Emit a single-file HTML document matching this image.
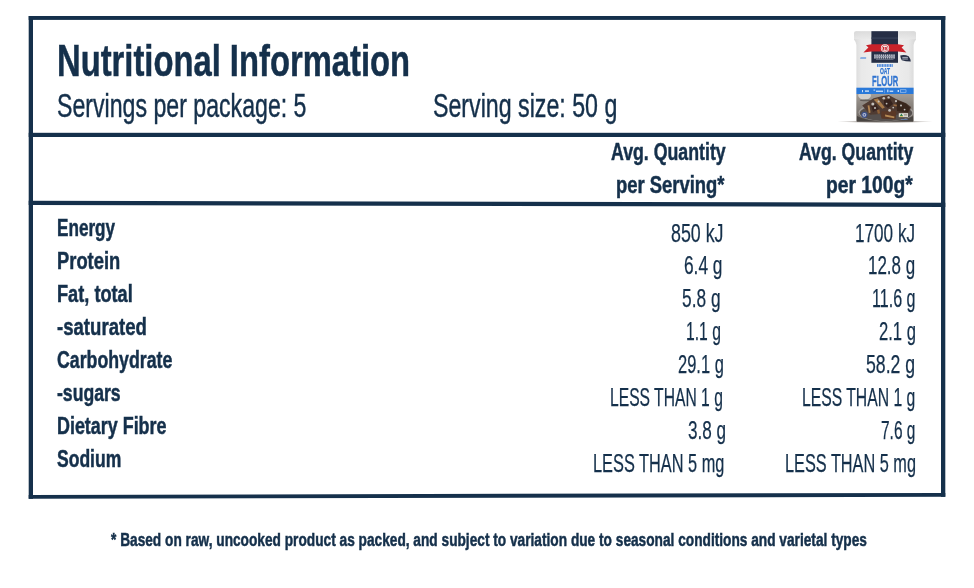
<!DOCTYPE html>
<html lang="en"><head><meta charset="utf-8"><title>Nutritional Information</title>
<style>
html,body{margin:0;padding:0;background:#fff}
body{width:974px;height:588px;position:relative;overflow:hidden;font-family:"Liberation Sans",sans-serif;color:#15304b}
.frame{position:absolute;left:0;top:0}
.t{position:absolute;margin:0;padding:0;white-space:pre;line-height:1;transform-origin:0 0}
.b{font-weight:bold;-webkit-text-stroke:0.5px #15304b}
.v{font-weight:normal;-webkit-text-stroke:0.25px #15304b}
.n{font-weight:normal;-webkit-text-stroke:0.45px #15304b}
.pouch{position:absolute;left:850px;top:28px}
</style></head><body>
<svg class="frame" width="974" height="588" viewBox="0 0 974 588" fill="#15304b">
<rect x="28.7" y="16" width="4.3" height="482.8"/>
<rect x="941" y="16" width="4.3" height="480.8"/>
<rect x="28.7" y="16" width="916.6" height="3.9"/>
<rect x="28.7" y="132.8" width="916.6" height="4.2"/>
<path d="M28.7 200.8L945.3 202.7V207L28.7 205Z"/>
<path d="M28.7 494.9L945.3 492.9V496.8L28.7 498.8Z"/>
</svg>
<svg class="pouch" width="110" height="110" viewBox="830 22 110 110" style="position:absolute;left:830px;top:22px;overflow:visible" font-family="'Liberation Sans',sans-serif">
<defs>
<linearGradient id="pg" x1="0" y1="0" x2="1" y2="0">
<stop offset="0" stop-color="#d8d8d8"/><stop offset="0.12" stop-color="#e9e9e9"/><stop offset="0.5" stop-color="#f1f1f1"/><stop offset="0.88" stop-color="#e8e8e8"/><stop offset="1" stop-color="#d6d6d6"/>
</linearGradient>
<linearGradient id="sg" x1="0" y1="0" x2="0" y2="1">
<stop offset="0" stop-color="#d8d8d8"/><stop offset="1" stop-color="#e9e9e9"/>
</linearGradient>
<radialGradient id="sh" cx="0.5" cy="0.5" r="0.5">
<stop offset="0" stop-color="#3a3028" stop-opacity="0.75"/><stop offset="0.6" stop-color="#5a5048" stop-opacity="0.4"/><stop offset="1" stop-color="#8a8078" stop-opacity="0"/>
</radialGradient>
<linearGradient id="ph" x1="0" y1="0" x2="0" y2="1">
<stop offset="0" stop-color="#a39d97"/><stop offset="0.35" stop-color="#8d8781"/><stop offset="1" stop-color="#6b6560"/>
</linearGradient>
<filter id="bl" x="-10%" y="-10%" width="120%" height="120%"><feGaussianBlur stdDeviation="0.45"/></filter>
<filter id="bl3" x="-20%" y="-20%" width="140%" height="140%"><feGaussianBlur stdDeviation="0.7"/></filter>
<clipPath id="pc"><path d="M856.6 94H913.2V121.7H856.6Z"/></clipPath>
</defs>
<ellipse cx="885" cy="121.6" rx="48" ry="1.5" fill="url(#sh)"/>
<g filter="url(#bl)">
<path d="M856.3 31.2H913.6Q916 31.2 916 33.6V39.5Q914.2 41.5 913.6 45V121.7H856.4V45Q855.8 41.5 854 39.5V33.6Q854 31.2 856.3 31.2Z" fill="url(#pg)"/>
<path d="M856.3 31.2H913.6Q916 31.2 916 33.6V39.2H854V33.6Q854 31.2 856.3 31.2Z" fill="url(#sg)" opacity="0.8"/>
<rect x="871.4" y="31.2" width="26.6" height="31.6" fill="#252e45"/>
<rect x="871.4" y="37.5" width="26.6" height="1.2" fill="#39425a"/>
<path d="M866 45.2L871.4 44.3H898L904 45.2L901.6 47.6L906.4 52.6L898 51.4H871.4L863.4 52.6L868.4 47.6Z" fill="#c9232c"/>
<circle cx="885" cy="48.3" r="4.1" fill="#f3ecec"/>
<circle cx="885" cy="48.3" r="3.1" fill="none" stroke="#c9232c" stroke-width="0.6"/>
<path d="M883 46.9H884V49.7H883ZM884.6 46.9H886.9V47.7H885.4V48H886.9V49.7H884.6V48.9H886.1V48.7H884.6Z" fill="#c9232c"/>
<g fill="#c3c7d1"><rect x="874.20" y="54.4" width="1.5" height="4.2"/><rect x="876.32" y="54.4" width="1.5" height="4.2"/><rect x="878.44" y="54.4" width="1.5" height="4.2"/><rect x="880.56" y="54.4" width="1.5" height="4.2"/><rect x="882.68" y="54.4" width="1.5" height="4.2"/><rect x="884.80" y="54.4" width="1.5" height="4.2"/><rect x="886.92" y="54.4" width="1.5" height="4.2"/><rect x="889.04" y="54.4" width="1.5" height="4.2"/><rect x="891.16" y="54.4" width="1.5" height="4.2"/><rect x="893.28" y="54.4" width="1.5" height="4.2"/></g><rect x="874.2" y="55.9" width="20.6" height="1.2" fill="#8f95a6"/>
<rect x="876" y="59.3" width="17.5" height="0.7" fill="#7b8294"/>
<path d="M900.2 55.4Q905 54.4 908.6 56.2Q910.6 58.6 910.8 61.6Q905.6 61.4 901.8 60.2Q900.4 58 900.2 55.4Z" fill="#252e45"/>
<rect x="902.3" y="56.9" width="5.6" height="1" fill="#aab0be"/>
<rect x="902.3" y="58.5" width="5.6" height="1" fill="#aab0be"/>
<rect x="860.2" y="57.3" width="6" height="1.5" rx="0.6" fill="#6f9fe0" transform="skewX(-12)" style="transform-origin:863px 58px"/>
<g fill="#4a86dc"><rect x="877.00" y="64.1" width="1.2" height="2.8"/><rect x="878.62" y="64.1" width="1.2" height="2.8"/><rect x="880.24" y="64.1" width="1.2" height="2.8"/><rect x="881.86" y="64.1" width="1.2" height="2.8"/><rect x="883.48" y="64.1" width="1.2" height="2.8"/><rect x="885.10" y="64.1" width="1.2" height="2.8"/><rect x="886.72" y="64.1" width="1.2" height="2.8"/><rect x="888.34" y="64.1" width="1.2" height="2.8"/><rect x="889.96" y="64.1" width="1.2" height="2.8"/><rect x="891.58" y="64.1" width="1.2" height="2.8"/></g>
<text x="885" y="74.1" font-size="9.2" font-weight="bold" text-anchor="middle" fill="#2f73d0" stroke="#2f73d0" stroke-width="0.25" textLength="10.2" lengthAdjust="spacingAndGlyphs">OAT</text>
<text x="885.1" y="85.6" font-size="14.4" font-weight="bold" text-anchor="middle" fill="#2f73d0" stroke="#2f73d0" stroke-width="0.3" textLength="26.2" lengthAdjust="spacingAndGlyphs">FLOUR</text>
<rect x="856.4" y="87.7" width="57.2" height="6.4" fill="#2b79d9"/>
<g fill="#cfe1f7"><rect x="862" y="90" width="1" height="2.2"/><rect x="865" y="90.4" width="4" height="1.4"/><rect x="873.5" y="89.6" width="1.6" height="1"/><rect x="876" y="90.6" width="7" height="1.3"/><rect x="887.2" y="89.6" width="1.2" height="2.6"/><rect x="889.6" y="90.6" width="3.6" height="1.3"/><rect x="897.6" y="90" width="1.4" height="2"/><rect x="900.4" y="89.8" width="5.6" height="2.4" fill="none" stroke="#cfe1f7" stroke-width="0.5"/></g>
<rect x="884.6" y="88.6" width="0.4" height="4.6" fill="#9cc1ef"/>
<rect x="856.4" y="94" width="57.2" height="27.7" fill="url(#ph)"/>
<g clip-path="url(#pc)">
<g filter="url(#bl3)">
<ellipse cx="864.6" cy="95.6" rx="6.4" ry="4.2" fill="#d3d0cc"/>
<ellipse cx="865.5" cy="100.4" rx="5.6" ry="0.8" fill="#625d59"/>
<ellipse cx="886" cy="112.5" rx="27.5" ry="9" fill="#a29d99"/>
<ellipse cx="886" cy="113" rx="26.3" ry="8" fill="#55504d"/>
<path d="M857 121.7V116Q866 121 886 121.5Q905 121 913.2 116V121.7Z" fill="#4a4542"/>
<path d="M862.2 105.4L873.7 98.2L882.4 96L888.8 95L896 99L906.1 103.3L911.1 106.9L909 113.3L896 114.8L895.3 119L881.6 118.4L880.2 114L870.1 114.8L866.5 110.5Z" fill="#503b31"/>
<path d="M881.6 111.6L895.6 110.8L896 114.8L895.3 119.2L881.6 118.6Z" fill="#5a3826"/>
<path d="M896 100L906 103.6L910 107.4L908 112.4L897 111Z" fill="#38281f"/>
<path d="M884 100L890 99L893 104L888 108L884 105Z" fill="#34241f"/>
<path d="M871 106L876 104L879 109L873 112Z" fill="#3a2822"/>
<path d="M873.6 99.6L877.8 98.4L884.8 107.4L882.4 108.8Z" fill="#a77a4a"/>
<path d="M867.6 105.6L869.4 105.2L870.6 112.4L868.8 113.2Z" fill="#b08452"/>
<path d="M885 114.6L894.4 116.4L894.2 118.2L885.2 116.6Z" fill="#b58a55"/>
<path d="M893.6 104.2L897 104.8L896.6 106.4L893.4 105.8Z" fill="#9a6c43"/>
<path d="M877 110L879.4 109.4L880 113.4L877.8 113.8Z" fill="#8e6139"/>
<g fill="#c4c0bc"><circle cx="878.6" cy="101.6" r="1"/><circle cx="886.6" cy="103.6" r="0.9"/><circle cx="901" cy="105.6" r="1"/><circle cx="904.6" cy="109.6" r="0.9"/><circle cx="883.8" cy="98.2" r="1.3"/><circle cx="888.6" cy="97.4" r="1.2"/><circle cx="872.8" cy="104" r="1.5"/><circle cx="889.6" cy="110.4" r="1.4"/><circle cx="896" cy="101.2" r="1.1"/><circle cx="893.2" cy="107.6" r="0.9"/><circle cx="875" cy="108" r="1"/></g>
</g>
<circle cx="864.4" cy="114.8" r="3.1" fill="#3b5190" opacity="0.9"/>
<circle cx="864.4" cy="114.8" r="1.9" fill="#cfd6e6" opacity="0.85"/>
<circle cx="864.4" cy="114.8" r="0.9" fill="#3b5190" opacity="0.9"/>
<rect x="898.8" y="113.2" width="9.2" height="3.9" fill="#e6e4dd"/>
<path d="M899.6 116.2L901.4 113.6L903.2 116.2Z" fill="#2e7d4a"/>
<rect x="899.6" y="116.2" width="3.6" height="0.6" fill="#e2b23a"/>
<rect x="903.8" y="114.2" width="3.6" height="0.7" fill="#8a857b"/><rect x="903.8" y="115.5" width="3.6" height="0.7" fill="#8a857b"/>
<rect x="901" y="119.2" width="6.6" height="0.8" fill="#5f7fb4"/>
</g>
</g>
</svg>

<h1 class="t b" style="left:56.68px;top:39px;font-size:44.5px;transform:scaleX(0.7361)">Nutritional Information</h1>
<p class="t n" style="left:56.92px;top:89px;font-size:33px;transform:scaleX(0.7010)">Servings per package: 5</p>
<p class="t n" style="left:433.12px;top:89px;font-size:33px;transform:scaleX(0.7028)">Serving size: 50 g</p>
<div class="t b" style="left:610.62px;top:140px;font-size:24px;transform:scaleX(0.7394)">Avg. Quantity</div>
<div class="t b" style="left:616.04px;top:173px;font-size:24px;transform:scaleX(0.7673)">per Serving*</div>
<div class="t b" style="left:798.82px;top:140px;font-size:24px;transform:scaleX(0.7368)">Avg. Quantity</div>
<div class="t b" style="left:826.40px;top:173px;font-size:24px;transform:scaleX(0.8019)">per 100g*</div>
<div class="t b" style="left:56.91px;top:216px;font-size:24px;transform:scaleX(0.7140)">Energy</div>
<div class="t b" style="left:56.84px;top:249px;font-size:24px;transform:scaleX(0.7651)">Protein</div>
<div class="t b" style="left:56.85px;top:282px;font-size:24px;transform:scaleX(0.7578)">Fat, total</div>
<div class="t b" style="left:57.22px;top:315px;font-size:24px;transform:scaleX(0.7746)">-saturated</div>
<div class="t b" style="left:57.25px;top:348px;font-size:24px;transform:scaleX(0.7393)">Carbohydrate</div>
<div class="t b" style="left:57.25px;top:381px;font-size:24px;transform:scaleX(0.7343)">-sugars</div>
<div class="t b" style="left:56.87px;top:414px;font-size:24px;transform:scaleX(0.7462)">Dietary Fibre</div>
<div class="t b" style="left:57.43px;top:447px;font-size:24px;transform:scaleX(0.7304)">Sodium</div>
<div class="t v" style="left:671.29px;top:221px;font-size:25px;transform:scaleX(0.7127)">850 kJ</div>
<div class="t v" style="left:683.84px;top:253px;font-size:25px;transform:scaleX(0.6919)">6.4 g</div>
<div class="t v" style="left:682.31px;top:286px;font-size:25px;transform:scaleX(0.6925)">5.8 g</div>
<div class="t v" style="left:685.60px;top:319px;font-size:25px;transform:scaleX(0.6278)">1.1 g</div>
<div class="t v" style="left:677.68px;top:352px;font-size:25px;transform:scaleX(0.6592)">29.1 g</div>
<div class="t v" style="left:609.55px;top:385px;font-size:25px;transform:scaleX(0.6263)">LESS THAN 1 g</div>
<div class="t v" style="left:687.69px;top:418px;font-size:25px;transform:scaleX(0.6854)">3.8 g</div>
<div class="t v" style="left:593.49px;top:451px;font-size:25px;transform:scaleX(0.6537)">LESS THAN 5 mg</div>
<div class="t v" style="left:855.00px;top:221px;font-size:25px;transform:scaleX(0.6857)">1700 kJ</div>
<div class="t v" style="left:868.41px;top:253px;font-size:25px;transform:scaleX(0.6777)">12.8 g</div>
<div class="t v" style="left:871.87px;top:286px;font-size:25px;transform:scaleX(0.6434)">11.6 g</div>
<div class="t v" style="left:878.57px;top:319px;font-size:25px;transform:scaleX(0.6654)">2.1 g</div>
<div class="t v" style="left:866.39px;top:352px;font-size:25px;transform:scaleX(0.7075)">58.2 g</div>
<div class="t v" style="left:802.14px;top:385px;font-size:25px;transform:scaleX(0.6286)">LESS THAN 1 g</div>
<div class="t v" style="left:881.13px;top:418px;font-size:25px;transform:scaleX(0.6180)">7.6 g</div>
<div class="t v" style="left:784.50px;top:451px;font-size:25px;transform:scaleX(0.6516)">LESS THAN 5 mg</div>
<p class="t b" style="left:110.89px;top:531px;font-size:18.0px;transform:scaleX(0.7608)">* Based on raw, uncooked product as packed, and subject to variation due to seasonal conditions and varietal types</p>
</body></html>
